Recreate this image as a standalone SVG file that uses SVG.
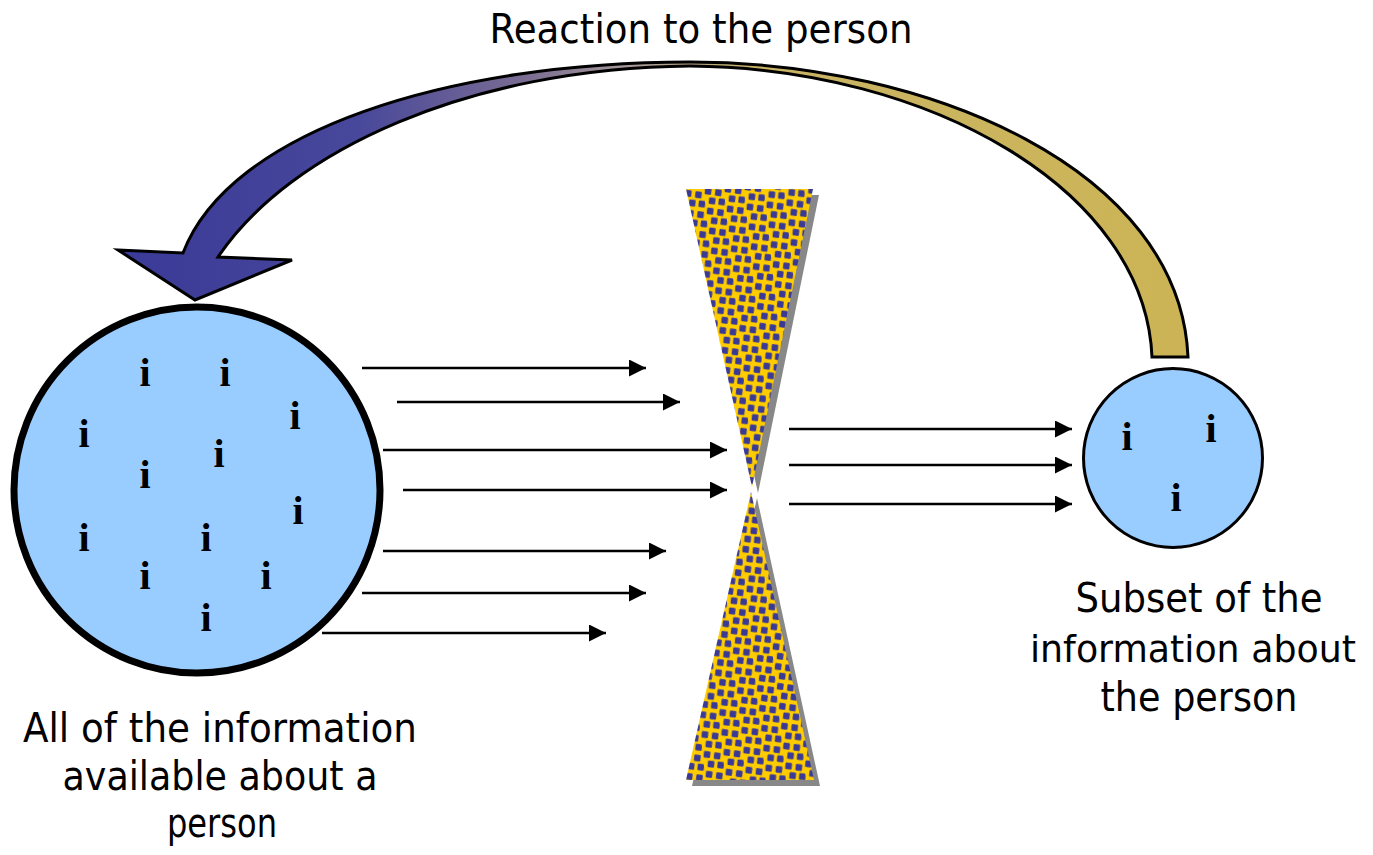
<svg xmlns="http://www.w3.org/2000/svg" width="1373" height="855" viewBox="0 0 1373 855">
<style>
.lbl{font-family:"DejaVu Sans","Liberation Sans",sans-serif;font-size:40px;fill:#000;text-anchor:middle}
.i{font-family:"Liberation Serif","Times New Roman",serif;font-weight:bold;font-size:40px;fill:#000;text-anchor:middle}
.con{stroke:#000;stroke-width:2.5;fill:none;marker-end:url(#ah)}
</style>
<defs>
<marker id="ah" markerUnits="userSpaceOnUse" markerWidth="17" markerHeight="17" refX="17" refY="8.5" orient="auto">
<path d="M0,0 L17,8.5 L0,17 z" fill="#000"/>
</marker>
<linearGradient id="arcg" gradientUnits="userSpaceOnUse" x1="118" y1="0" x2="1190" y2="0">
<stop offset="0" stop-color="#3A3A98"/>
<stop offset="0.22" stop-color="#47479B"/>
<stop offset="0.38" stop-color="#7A6C92"/>
<stop offset="0.48" stop-color="#A89C9A"/>
<stop offset="0.6" stop-color="#C9B466"/>
<stop offset="1" stop-color="#CCB455"/>
</linearGradient>
<pattern id="dots" patternUnits="userSpaceOnUse" width="20" height="20" patternTransform="rotate(-6)">
<rect width="20" height="20" fill="#FFCC00"/>
<g fill="#3A3A96">
<rect x="1" y="1" width="6.5" height="6.5" rx="1" transform="rotate(12 4.25 4.25)"/>
<rect x="11" y="3.5" width="6.5" height="6.5" rx="1" transform="rotate(12 14.25 6.75)"/>
<rect x="4" y="11" width="6.5" height="6.5" rx="1" transform="rotate(12 7.25 14.25)"/>
<rect x="13.5" y="13" width="6.5" height="6.5" rx="1" transform="rotate(12 16.75 16.25)"/>
</g>
</pattern>
</defs>

<g id="title">
<text class="lbl" x="701" y="43" textLength="423" lengthAdjust="spacingAndGlyphs">Reaction to the person</text>
</g>

<g id="feedback-arrow">
<path d="M183,253 C230,130 450,62 690,62 C930,62 1180,170 1188,357 L1152,357 C1145,190 930,68 690,66 C470,68 290,150 218,257 L292,260 L195,300 L118,250 Z" fill="url(#arcg)" stroke="#000" stroke-width="3" stroke-linejoin="miter"/>
</g>

<g id="all-info">
<circle cx="197" cy="490" r="183" fill="#99CCFF" stroke="#000" stroke-width="7"/>
<text class="i" x="145" y="386">i</text>
<text class="i" x="225" y="386">i</text>
<text class="i" x="295" y="429">i</text>
<text class="i" x="84" y="447">i</text>
<text class="i" x="219" y="467">i</text>
<text class="i" x="145" y="488">i</text>
<text class="i" x="298" y="524">i</text>
<text class="i" x="84" y="551">i</text>
<text class="i" x="206" y="551">i</text>
<text class="i" x="145" y="589">i</text>
<text class="i" x="266" y="589">i</text>
<text class="i" x="206" y="631">i</text>
<text class="lbl" x="220" y="742" textLength="394" lengthAdjust="spacingAndGlyphs">All of the information</text>
<text class="lbl" x="220" y="790" textLength="315" lengthAdjust="spacingAndGlyphs">available about a</text>
<text class="lbl" x="222" y="837" textLength="110" lengthAdjust="spacingAndGlyphs">person</text>
</g>

<g id="filter">
<polygon points="692,195 819,195 758,493" fill="#888"/>
<polygon points="757,498 692,786 820,786" fill="#888"/>
<polygon points="686,189 813,189 752,487" fill="url(#dots)"/>
<polygon points="751,492 686,780 814,780" fill="url(#dots)"/>
</g>

<g id="subset">
<circle cx="1173" cy="458" r="89.5" fill="#99CCFF" stroke="#000" stroke-width="3"/>
<text class="i" x="1127" y="450">i</text>
<text class="i" x="1211" y="442">i</text>
<text class="i" x="1176" y="511">i</text>
<text class="lbl" x="1199" y="612" textLength="247" lengthAdjust="spacingAndGlyphs">Subset of the</text>
<text class="lbl" x="1193" y="662" style="font-size:38px" textLength="326" lengthAdjust="spacingAndGlyphs">information about</text>
<text class="lbl" x="1199" y="711" textLength="197" lengthAdjust="spacingAndGlyphs">the person</text>
</g>

<g id="connectors">
<line class="con" x1="362" y1="368" x2="646" y2="368"/>
<line class="con" x1="397" y1="402" x2="680" y2="402"/>
<line class="con" x1="383" y1="450" x2="727" y2="450"/>
<line class="con" x1="403" y1="490" x2="727" y2="490"/>
<line class="con" x1="383" y1="551" x2="666" y2="551"/>
<line class="con" x1="362" y1="593" x2="646" y2="593"/>
<line class="con" x1="322" y1="633" x2="606" y2="633"/>
<line class="con" x1="789" y1="429" x2="1072" y2="429"/>
<line class="con" x1="789" y1="465" x2="1072" y2="465"/>
<line class="con" x1="789" y1="504" x2="1072" y2="504"/>
</g>
</svg>
